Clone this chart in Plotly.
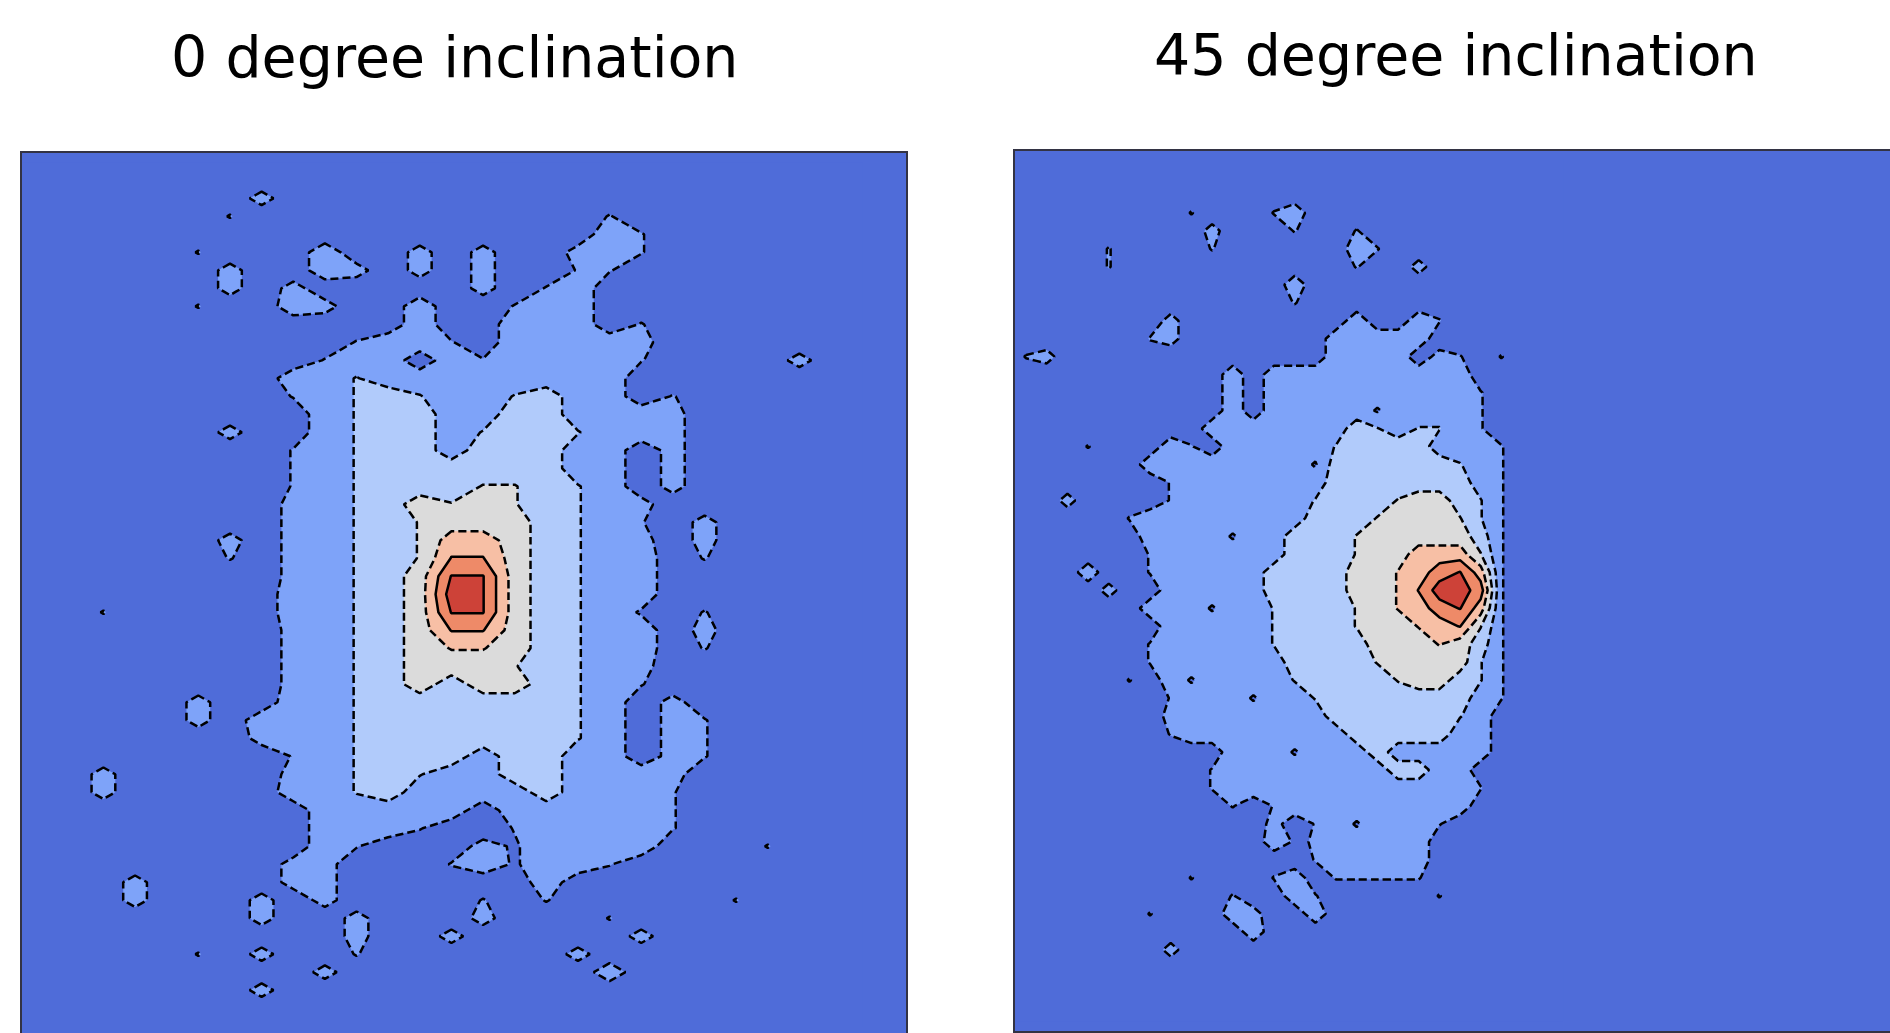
import plotly.graph_objects as go

# Each character is one grid value (see LEVEL_VALUES).
LEVEL_VALUES = {'.': 0, ';': 0.4, 'a': 0.55, ':': 0.8, '1': 1, 'b': 1.55, '2': 2, 'c': 2.55,
                '3': 3, 'd': 3.55, '4': 4, 'e': 4.55, '5': 5, 'f': 5.55, '6': 6}

left_rows = [
".........................",
".........................",
".......:.................",
"......a...........a......",
"..................1a.....",
".....a...1..:.:..:1a.....",
"......:..1:.:.:..aa......",
"......:.:.....:.a1.......",
".....a..1:..1..a11.......",
"............1..111.a.....",
"..........a11a.1111:.....",
".........a11.1a1111a....:",
"........11b11111111......",
"........a1b2b11b211.a....",
".........1b221122111:....",
"......:..1b221b22b11:....",
"........a1b22122211.:....",
"........a1b22222211.:....",
"........a1b222cc2b1.:....",
"........:1b23c3c2b1:.....",
"........:1b2c3332b1a.:...",
"......:.:1b2c4432b1:.:...",
"......a.:1b2cee32b11.a...",
"........:1b23ff32b11.....",
"........11b236f32b11.....",
"..a.....11b23ff32b1;.a...",
"........:1b23ee32b11.:...",
"........:1b23dd32b11.a...",
"........:1b2333c2b1:.....",
"........:1b232332b1a.....",
".....:..11b222222b1.:....",
".....:.111b222222b1.:a...",
".......:a1b222222b1.:a...",
"........a1b22212211.:a...",
"..:.....:1b2b1122111:....",
"..:.....11b211112111a....",
".........11111.11111a....",
".........111a..a1111a....",
".........1a...:;1111...a.",
"........::...a1;11a......",
"...:....::......1........",
"...:...:.:....a.a.....a..",
".......:..:...:...a......",
"..........:..:.....:.....",
".....a.:..a......:.......",
".........:........1......",
".......:.................",
".........................",
".........................",
]

right_rows = [
".........................",
".........................",
".........................",
"........a...a1...........",
".........:...a..a........",
"....a....a......1a.......",
"....a...........a..:.....",
".............1...........",
".............a...........",
".......:........1..1a....",
"......a:.......11111.....",
"a:.............1111.:a.a.",
"..........1.1111111111...",
"..........1.1111111111a..",
"..........1.11111;1111a..",
".........11111112b1bb1a..",
"...a...1a.11111b2222111a.",
"......11111111;222222b1a.",
".......a111111122222221a.",
"..:....a111111b222c332ba.",
".....a11111111222c333cba.",
"......1111;11222c333332a.",
"......a111111222c33444ca.",
"...1..a11111222233d45f4a.",
"....:..11111222233de665a.",
"......111;11b222c3d45f4a.",
".......11111b222c33d4eca.",
"......a11111b2222333d32a.",
"......a1111112222c3333ba.",
".....a.1;1111b2222c332ba.",
".......a111;11b22222221a.",
".......:1111111222222b1..",
".......a111111112222211..",
"..........111;111211111..",
".........a111111112211...",
".........a111111111111a..",
"..........a.a111111111...",
"............:.a1;111a....",
"............1;a11111.....",
"..............a11111.....",
"........a...a1.aaaaa.....",
"..........a..1a.....a....",
"......a...1:..1..........",
"...........1.............",
".......:.................",
".........................",
".........................",
".........................",
".........................",
]

band_colors = ["#4f6cd9", "#7ea3f9", "#b1cbfb", "#dbdbdb", "#f7bfa5", "#ee8a68", "#cd4238"]
titles = ["0 degree inclination", "45 degree inclination"]

W, H = 1900, 1040


def grid(rows):
    z = [[0] + [LEVEL_VALUES[c] for c in r] + [0, 0] for r in rows]
    x = list(range(-1, len(rows[0]) + 2))
    y = list(range(len(rows)))
    return x, y, z


colorscale = [[k / 6, c] for k, c in enumerate(band_colors)]
fig = go.Figure()

panels = [
    dict(rows=left_rows, ax="", px=(22, 906), py=(153, 1037), xr=(-0.574, 27.37), yr=(48.6, -0.52)),
    dict(rows=right_rows, ax="2", px=(1015, 1896), py=(151, 1031), xr=(-0.537, 42.1), yr=(48.52, -0.444)),
]

for p in panels:
    x, y, z = grid(p["rows"])
    xa, ya = "x" + p["ax"], "y" + p["ax"]
    fig.add_trace(go.Contour(x=x, y=y, z=z, xaxis=xa, yaxis=ya, showscale=False, hoverinfo="skip",
                             colorscale=colorscale, zmin=0, zmax=6, autocontour=False,
                             contours=dict(start=0.5, end=5.5, size=1, coloring="fill", showlines=False),
                             line=dict(width=0, smoothing=0)))
    fig.add_trace(go.Contour(x=x, y=y, z=z, xaxis=xa, yaxis=ya, showscale=False, hoverinfo="skip",
                             autocontour=False,
                             contours=dict(start=0.5, end=3.5, size=1, coloring="none"),
                             line=dict(color="black", width=2.5, dash="8px,4px", smoothing=0)))
    fig.add_trace(go.Contour(x=x, y=y, z=z, xaxis=xa, yaxis=ya, showscale=False, hoverinfo="skip",
                             autocontour=False,
                             contours=dict(start=4.5, end=5.5, size=1, coloring="none"),
                             line=dict(color="black", width=2.5, smoothing=0)))
    axis_common = dict(showgrid=False, zeroline=False, showticklabels=False, ticks="",
                       showline=True, mirror=True, linecolor="#333344", linewidth=1.5)
    fig.update_layout(**{
        "xaxis" + p["ax"]: dict(domain=[p["px"][0] / W, p["px"][1] / W], range=list(p["xr"]),
                                anchor="y" + p["ax"], **axis_common),
        "yaxis" + p["ax"]: dict(domain=[1 - p["py"][1] / H, 1 - p["py"][0] / H], range=list(p["yr"]),
                                anchor="x" + p["ax"], **axis_common),
    })

fig.add_annotation(text=titles[0], x=454 / W, y=1 - 57 / H, xref="paper", yref="paper", showarrow=False,
                   xanchor="center", yanchor="middle", font=dict(family="DejaVu Sans", size=57, color="black"))
fig.add_annotation(text=titles[1], x=1456 / W, y=1 - 55 / H, xref="paper", yref="paper", showarrow=False,
                   xanchor="center", yanchor="middle", font=dict(family="DejaVu Sans", size=57, color="black"))

fig.update_layout(width=W, height=H, autosize=False, margin=dict(l=0, r=0, t=0, b=0),
                  paper_bgcolor="white", plot_bgcolor=band_colors[0], showlegend=False)

fig.write_html("out.html", config={"displayModeBar": False}, post_script=(
    "document.body.style.margin='0';document.body.style.overflow='hidden';"
    "document.documentElement.style.overflow='hidden';"))
